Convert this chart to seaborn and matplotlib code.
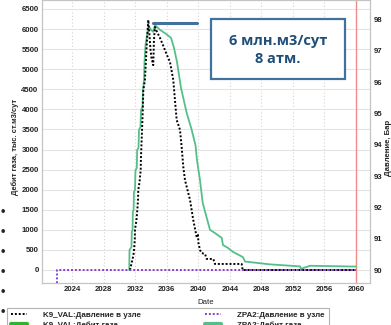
import matplotlib
matplotlib.use("Agg")
import pandas as pd
import matplotlib.pyplot as plt
from matplotlib.lines import Line2D
from matplotlib.patches import Rectangle
import seaborn as sns

# ZPA2: gas rate, thousand st.m3/day (solid green, left axis)
zpa2_years = [2031.26, 2031.29, 2031.54, 2031.58, 2031.68, 2031.71, 2031.81, 2031.85,
              2031.98, 2032.05, 2032.21, 2032.26, 2032.43, 2032.49, 2032.68, 2032.75,
              2032.94, 2033.00, 2033.13, 2033.19, 2033.32, 2033.51, 2033.70, 2034.01,
              2034.30, 2034.52, 2035.15, 2035.91, 2036.55, 2036.93, 2037.31, 2037.82,
              2038.54, 2039.17, 2039.65, 2039.84, 2040.22, 2040.57, 2040.98, 2041.49,
              2042.12, 2042.97, 2043.14, 2043.77, 2044.41, 2045.67, 2045.93, 2049.10,
              2052.90, 2053.02, 2054.17, 2060.00]
zpa2_rate = [0, 500, 570, 950, 1000, 1440, 1490, 1940,
             1990, 2490, 2540, 2990, 3040, 3490, 3560, 3980,
             4060, 4480, 4730, 5180, 5600, 5850, 6080, 5980,
             5930, 6100, 5980, 5880, 5780, 5530, 5180, 4530,
             3910, 3490, 3110, 2740, 2240, 1670, 1370, 1000,
             920, 800, 620, 550, 450, 320, 210, 140,
             90, 30, 105, 85]

# K9_VAL (dotted black, left axis)
k9_years = [2031.35, 2031.57, 2031.79, 2031.86, 2031.96, 2031.98, 2032.17, 2032.28,
            2032.37, 2032.40, 2032.56, 2032.71, 2032.73, 2032.83, 2032.96, 2033.04,
            2033.25, 2033.47, 2033.67, 2033.82, 2033.95, 2034.08, 2034.30, 2034.39,
            2034.52, 2034.77, 2035.15, 2035.53, 2036.04, 2036.42, 2036.84, 2037.05,
            2037.27, 2037.69, 2037.90, 2038.11, 2038.32, 2038.96, 2039.37, 2039.80,
            2039.97, 2040.03, 2040.22, 2040.44, 2040.86, 2041.07, 2041.91, 2042.12,
            2045.51, 2045.63, 2060.00]
k9_vals = [0, 175, 375, 500, 750, 1000, 1245, 1495,
           1745, 1990, 2190, 2490, 2740, 3240, 3910, 4480,
           4730, 5600, 6225, 5850, 5480, 5280, 5100, 5730,
           6050, 5930, 5780, 5600, 5350, 5180, 4730, 4230,
           3735, 3490, 3060, 2565, 2240, 1745, 1245, 820,
           870, 670, 500, 420, 400, 275, 275, 150,
           150, 0, 0]

# ZPA2 node pressure, bar (dotted purple, right axis)
zpa2_p_years = [2022.1, 2022.1, 2060.0]
zpa2_pressure = [85, 90, 90]

x_ticks = list(range(2024, 2061, 4))
left_ticks = list(range(0, 6501, 500))
right_ticks = list(range(90, 99))

labels = ['K9_VAL:Давление в узле', 'K9_VAL:Дебит газа',
          'ZPA2:Давление в узле', 'ZPA2:Дебит газа']

sns.set_style("white")
plt.rcParams['font.family'] = ['Liberation Sans', 'DejaVu Sans']
plt.rcParams['font.weight'] = 'bold'

W, H = 391, 325
fig = plt.figure(figsize=(W / 100, H / 100), dpi=100)
ax = fig.add_axes([42 / W, 1 - 283 / H, 328 / W, 283 / H])

green = '#55bf8a'
purple = '#8a3fd1'
dots = (0, (1, 1))

df_g = pd.DataFrame({'year': zpa2_years, 'val': zpa2_rate})
df_k = pd.DataFrame({'year': k9_years, 'val': k9_vals})
df_p = pd.DataFrame({'year': zpa2_p_years, 'val': zpa2_pressure})

ax.axvline(2060, color='#f08c8c', lw=1.0, zorder=1)
sns.lineplot(data=df_g, x='year', y='val', ax=ax, color=green, lw=1.3,
             estimator=None, sort=False, zorder=3)
sns.lineplot(data=df_k, x='year', y='val', ax=ax, color='black', lw=1.4,
             linestyle=dots, estimator=None, sort=False, zorder=4)

ax.set_xlim(2020.2, 2061.77)
ax.set_ylim(-324, 6723)
ax.set_xticks(x_ticks)
ax.set_yticks(left_ticks)
ax.grid(axis='y', color='#e4e4e4', lw=0.8)
ax.grid(axis='x', color='#d2d2d2', lw=0.8, ls=(0, (1, 2)))
ax.set_axisbelow(True)
ax.tick_params(length=0, labelsize=5.6, pad=2.5, labelcolor='#222222')
ax.set_xlabel('Date', fontsize=5.6, color='#222222')
ax.xaxis.set_label_coords(0.5, -0.058)
ax.set_ylabel('')

ax2 = ax.twinx()
sns.lineplot(data=df_p, x='year', y='val', ax=ax2, color=purple, lw=1.4,
             linestyle=dots, estimator=None, sort=False)
ax2.set_ylim(89.585, 98.626)
ax2.set_yticks(right_ticks)
ax2.set_ylabel('')
ax2.tick_params(length=0, labelsize=5.6, pad=2.5, labelcolor='#222222')

for a in (ax, ax2):
    for s in a.spines.values():
        s.set_color('#c4c4c4')
        s.set_linewidth(0.8)

fig.text(15 / W, 1 - 147 / H, 'Дебит газа, тыс. ст.м3/сут', rotation=90,
         ha='center', va='center', fontsize=5.4, color='#222222')
fig.text(389 / W, 1 - 148 / H, 'Давление, Бар', rotation=90,
         ha='center', va='center', fontsize=5.6, color='#222222')

# bullets on the left edge
for yb in [212, 232, 252, 272, 292, 312]:
    fig.text(3 / W, 1 - yb / H, '•', ha='center', va='center', fontsize=9)

# annotation box and pointer line
fig.add_artist(Rectangle((211 / W, 1 - 79 / H), 134 / W, 60 / H,
                         transform=fig.transFigure, facecolor='white',
                         edgecolor='#41719c', lw=1.6, zorder=10))
fig.text(278 / W, 1 - 50 / H, '6 млн.м3/сут\n8 атм.', ha='center', va='center',
         family='Open Sans', fontweight='bold', fontsize=10.5, color='#1f4e79',
         linespacing=1.3, zorder=11)
fig.add_artist(Line2D([153 / W, 197 / W], [1 - 23 / H, 1 - 23 / H],
                      transform=fig.transFigure, color='#41719c', lw=2.2))

handles = [Line2D([], [], color='black', lw=1.4, ls=dots),
           Line2D([], [], color='#2db52d', lw=3.0),
           Line2D([], [], color=purple, lw=1.4, ls=dots),
           Line2D([], [], color=green, lw=3.0)]
leg = fig.legend(handles, labels, ncol=2, loc='upper left',
                 bbox_to_anchor=(7 / W, 1 - 308 / H), fontsize=5.8,
                 frameon=True, fancybox=False, edgecolor='#a0a0a0',
                 handlelength=2.0, handletextpad=2.0, columnspacing=8.0,
                 borderpad=0.45, labelspacing=0.2, borderaxespad=0)
leg.get_frame().set_linewidth(0.8)

fig.savefig('out.png', dpi=100)
